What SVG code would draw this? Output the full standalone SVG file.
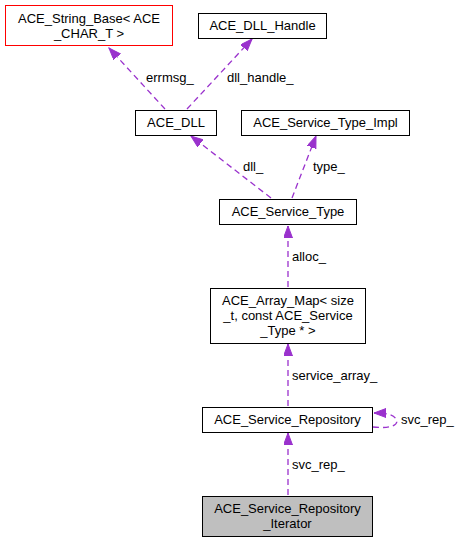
<svg xmlns="http://www.w3.org/2000/svg" width="460" height="543" viewBox="0 0 460 543">
<style>
text{font-family:"Liberation Sans",Arial,Helvetica,sans-serif;font-size:13px;fill:#000}
.n{text-anchor:middle}
.box{fill:#fff;stroke:#000;stroke-width:1}
.e{fill:none;stroke:#9a32cd;stroke-width:1.3;stroke-dasharray:6,4;marker-end:url(#ah)}
</style>
<defs>
<marker id="ah" markerUnits="userSpaceOnUse" markerWidth="14" markerHeight="11" refX="12" refY="4.5" orient="auto">
<path d="M0,0 L12,4.5 L0,9 z" fill="#9a32cd" stroke="#9a32cd" stroke-width="1"/>
</marker>
</defs>
<rect width="460" height="543" fill="#fff"/>
<g id="connectors">
<path class="e" d="M165,109 L109,48"/>
<path class="e" d="M187,109 L252,39"/>
<path class="e" d="M271,198 L191,136"/>
<path class="e" d="M292,198 L316,136"/>
<path class="e" d="M288,287 L288,226"/>
<path class="e" d="M288,406 L288,344"/>
<path class="e" d="M288,495 L288,433"/>
<path class="e" d="M373,427 C390,429 400,425 396,419 C393,414 386,413 374,413"/>
<text x="146" y="82">errmsg_</text>
<text x="227" y="82">dll_handle_</text>
<text x="243" y="171">dll_</text>
<text x="313" y="171">type_</text>
<text x="292" y="261">alloc_</text>
<text x="292" y="380">service_array_</text>
<text x="401" y="424">svc_rep_</text>
<text x="292" y="469">svc_rep_</text>
</g>
<g id="node_string_base">
<rect class="box" x="5.5" y="5.5" width="167" height="40" style="stroke:#ff0000"/>
<text class="n" x="89" y="23">ACE_String_Base&lt; ACE</text>
<text class="n" x="89" y="38">_CHAR_T &gt;</text>
</g>
<g id="node_dll_handle">
<rect class="box" x="198.5" y="13.5" width="128" height="25"/>
<text class="n" x="262.5" y="30">ACE_DLL_Handle</text>
</g>
<g id="node_dll">
<rect class="box" x="135.5" y="110.5" width="81" height="25"/>
<text class="n" x="176" y="127">ACE_DLL</text>
</g>
<g id="node_service_type_impl">
<rect class="box" x="241.5" y="110.5" width="168" height="25"/>
<text class="n" x="325.5" y="127">ACE_Service_Type_Impl</text>
</g>
<g id="node_service_type">
<rect class="box" x="219.5" y="199.5" width="137" height="25"/>
<text class="n" x="288" y="216">ACE_Service_Type</text>
</g>
<g id="node_array_map">
<rect class="box" x="210.5" y="288.5" width="155" height="55"/>
<text class="n" x="288" y="305">ACE_Array_Map&lt; size</text>
<text class="n" x="288" y="320">_t, const ACE_Service</text>
<text class="n" x="288" y="335">_Type * &gt;</text>
</g>
<g id="node_service_repository">
<rect class="box" x="202.5" y="407.5" width="170" height="25"/>
<text class="n" x="287.5" y="424">ACE_Service_Repository</text>
</g>
<g id="node_iterator">
<rect class="box" x="202.5" y="496.5" width="170" height="40" style="fill:#bfbfbf"/>
<text class="n" x="287.5" y="513">ACE_Service_Repository</text>
<text class="n" x="287.5" y="528">_Iterator</text>
</g>
</svg>
